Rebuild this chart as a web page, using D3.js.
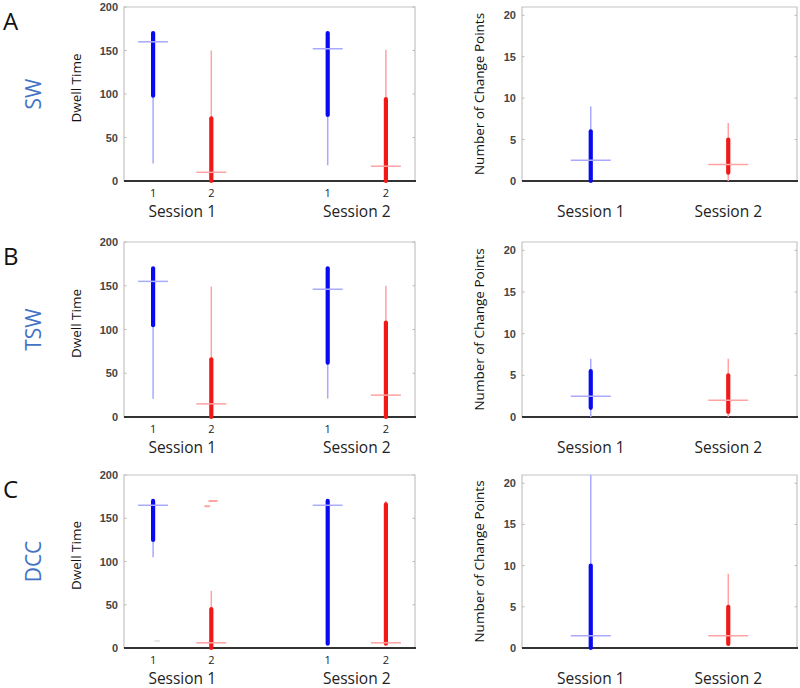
<!DOCTYPE html>
<html><head><meta charset="utf-8">
<script src="https://cdn.jsdelivr.net/npm/d3@7"></script>
<style>body{margin:0;background:#fff}svg{display:block}</style>
</head><body>
<svg id="chart" width="800" height="688"></svg>
<script>
// ---- data ----
const panelLetters = ["A", "B", "C"];
const methods = ["SW", "TSW", "DCC"];
const sessions = ["Session 1", "Session 2"];
const groupTicks = ["1", "2", "1", "2"];
const groupPositions = [1, 2, 4, 5];
const dwellTicks = [0, 50, 100, 150, 200];
const cpTicks = [0, 5, 10, 15, 20];
// box stats: [whiskerLow, q1, median, q3, whiskerHigh]
const dwellSW  = [[20, 98, 160, 170, 170], [0, 0, 10, 72, 150], [18, 76, 152, 170, 170], [0, 0, 17, 94, 151]];
const dwellTSW = [[21, 105, 155, 170, 170], [0, 0, 15, 66, 149], [21, 62, 146, 170, 170], [0, 0, 25, 108, 150]];
const dwellDCC = [[105, 125, 165, 170, 170], [0, 0, 6, 45, 66], [5, 5, 165, 170, 170], [5, 5, 6, 166, 170]];
const dwellOutliersDCC = [{x: 1.93, y: 164, g: 1}, {x: 2.0, y: 170, g: 1}, {x: 2.06, y: 170, g: 1}, {x: 1.07, y: 8, g: 2}];
const cpSW  = [[0, 0, 2.5, 6, 9], [0, 1, 2, 5, 7]];
const cpTSW = [[0, 1.1, 2.5, 5.5, 7], [0, 0.6, 2, 5, 7]];
const cpDCC = [[0, 0, 1.5, 10, 21], [0.5, 0.5, 1.5, 5, 9]];
const dwellData = [dwellSW, dwellTSW, dwellDCC];
const cpData = [cpSW, cpTSW, cpDCC];
const dwellOutliers = [[], [], dwellOutliersDCC];

// ---- styles ----
const dark = ["#0a0af0", "#f21818"];
const light = ["#a9a9ff", "#ffa3a3", "#e6e6ee"];
const rows = [{top: 7, bottom: 181}, {top: 242, bottom: 417}, {top: 475, bottom: 648}];
const leftX = [124, 415], rightX = [522, 797];

const svg = d3.select("#chart");
svg.append("rect").attr("width", 800).attr("height", 688).attr("fill", "#fff");

function frame(g, x0, x1, y0, y1, y, ticks) {
  g.append("path").attr("d", `M${x0},${y1}V${y0}H${x1}V${y1}`)
    .attr("fill", "none").attr("stroke", "#c4c4c4").attr("stroke-width", 1.2);
  const ax = d3.axisLeft(y).tickValues(ticks).tickSize(0).tickPadding(6);
  const a = g.append("g").attr("transform", `translate(${x0},0)`).call(ax);
  a.select(".domain").remove();
  a.selectAll("text").attr("font-family", "Liberation Sans, Arial, sans-serif")
    .attr("font-size", 11).attr("font-weight", "bold").attr("fill", "#444");
  ticks.forEach(t => {
    g.append("line").attr("x1", x0).attr("x2", x0 + 2.5).attr("y1", y(t)).attr("y2", y(t)).attr("stroke", "#bbb");
    g.append("line").attr("x1", x1).attr("x2", x1 - 2.5).attr("y1", y(t)).attr("y2", y(t)).attr("stroke", "#bbb");
  });
  g.append("line").attr("x1", x0).attr("x2", x1 + 1).attr("y1", y1).attr("y2", y1)
    .attr("stroke", "#333").attr("stroke-width", 2);
}

function boxes(g, x, y, stats, positions, colorIdx, medLen) {
  stats.forEach((s, i) => {
    const cx = x(positions[i]);
    const ci = colorIdx[i];
    g.append("line").attr("x1", cx).attr("x2", cx).attr("y1", y(s[0])).attr("y2", y(s[4]))
      .attr("stroke", light[ci]).attr("stroke-width", 1.5);
    g.append("line").attr("x1", cx).attr("x2", cx).attr("y1", y(s[1])).attr("y2", y(s[3]))
      .attr("stroke", dark[ci]).attr("stroke-width", 4.2).attr("stroke-linecap", "round");
    g.append("line").attr("x1", cx - medLen / 2).attr("x2", cx + medLen / 2).attr("y1", y(s[2])).attr("y2", y(s[2]))
      .attr("stroke", light[ci]).attr("stroke-width", 1.5);
  });
}

const labelFont = "Open Sans, Lato, sans-serif";

rows.forEach((r, ri) => {
  // panel letter and method label
  svg.append("text").attr("x", 3).attr("y", r.top + 23).text(panelLetters[ri])
    .attr("font-family", labelFont).attr("font-size", 24).attr("fill", "#111");
  svg.append("text").attr("transform", `translate(41,${(r.top + r.bottom) / 2}) rotate(-90)`)
    .attr("text-anchor", "middle").text(methods[ri])
    .attr("font-family", labelFont).attr("font-size", 21).attr("fill", "#4472c4");

  // ---- dwell time panel ----
  const gL = svg.append("g");
  const xL = d3.scaleLinear().domain([0.5, 5.5]).range(leftX);
  const yL = d3.scaleLinear().domain([0, 200]).range([r.bottom, r.top]);
  frame(gL, leftX[0], leftX[1], r.top, r.bottom, yL, dwellTicks);
  boxes(gL, xL, yL, dwellData[ri], groupPositions, [0, 1, 0, 1], 30);
  dwellOutliers[ri].forEach(o => {
    gL.append("line").attr("x1", xL(o.x) - 2).attr("x2", xL(o.x) + 2).attr("y1", yL(o.y)).attr("y2", yL(o.y))
      .attr("stroke", light[o.g]).attr("stroke-width", 2).attr("stroke-linecap", "round");
  });
  groupPositions.forEach((p, i) => {
    gL.append("text").attr("x", xL(p)).attr("y", r.bottom + 16).attr("text-anchor", "middle")
      .text(groupTicks[i]).attr("font-family", labelFont).attr("font-size", 11).attr("fill", "#222");
  });
  sessions.forEach((s, i) => {
    const cx = (xL(groupPositions[2 * i]) + xL(groupPositions[2 * i + 1])) / 2;
    gL.append("text").attr("x", cx).attr("y", r.bottom + 36).attr("text-anchor", "middle")
      .text(s).attr("font-family", labelFont).attr("font-size", 15.5).attr("fill", "#222");
  });
  gL.append("text").attr("transform", `translate(81,${(r.top + r.bottom) / 2 - 6}) rotate(-90)`)
    .attr("text-anchor", "middle").text("Dwell Time")
    .attr("font-family", labelFont).attr("font-size", 13.5).attr("fill", "#111");

  // ---- change points panel ----
  const gR = svg.append("g");
  const xR = d3.scaleLinear().domain([0.5, 2.5]).range(rightX);
  const yR = d3.scaleLinear().domain([0, 21]).range([r.bottom, r.top]);
  frame(gR, rightX[0], rightX[1], r.top, r.bottom, yR, cpTicks);
  boxes(gR, xR, yR, cpData[ri], [1, 2], [0, 1], 40);
  sessions.forEach((s, i) => {
    gR.append("text").attr("x", xR(i + 1)).attr("y", r.bottom + 36).attr("text-anchor", "middle")
      .text(s).attr("font-family", labelFont).attr("font-size", 15.5).attr("fill", "#222");
  });
  gR.append("text").attr("transform", `translate(484,${(r.top + r.bottom) / 2}) rotate(-90)`)
    .attr("text-anchor", "middle").text("Number of Change Points")
    .attr("font-family", labelFont).attr("font-size", 13.5).attr("fill", "#111");
});
</script>
</body></html>
